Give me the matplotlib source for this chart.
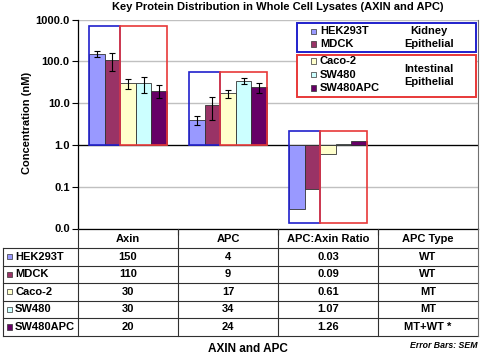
import matplotlib
matplotlib.use("Agg")
import matplotlib.pyplot as plt
from matplotlib.patches import Rectangle
from matplotlib.ticker import FixedLocator, FuncFormatter

plt.rcParams['font.family'] = ['Liberation Sans', 'DejaVu Sans']
plt.rcParams['font.weight'] = 'bold'

# data
categories = ["Axin", "APC", "APC:Axin Ratio", "APC Type"]
cell_lines = ["HEK293T", "MDCK", "Caco-2", "SW480", "SW480APC"]
colors = ["#9999FF", "#993366", "#FFFFCC", "#CCFFFF", "#660066"]
axin = [150, 110, 30, 30, 20]
apc = [4, 9, 17, 34, 24]
ratio = [0.03, 0.09, 0.61, 1.07, 1.26]
apc_type = ["WT", "WT", "MT", "MT", "MT+WT *"]
axin_err = [22, 50, 8, 13, 7]
apc_err = [1, 5, 3.5, 6, 7]
# grouping boxes (kidney / intestinal) per category
box_top = [700, 55, 2.1]
box_bottom = [1, 1, 0.0137]

W, H = 483, 355
FS = 8
fig = plt.figure(figsize=(W / 100, H / 100), dpi=100)


def fx(x):
    return x / W


def fy(y):
    return 1 - y / H


ax = fig.add_axes([fx(78), fy(228.5), 400 / W, 209 / H])
ax.set_yscale("log")
ax.set_ylim(0.01, 1000)
ax.set_xlim(0, 4)

bw = 0.156
values = [axin, apc, ratio]
errors = [axin_err, apc_err, None]
for g, vals in enumerate(values):
    for i, v in enumerate(vals):
        x = g + 0.5 + (i - 2) * bw
        ax.bar(x, v - 1, bottom=1, width=bw, color=colors[i],
               edgecolor="#333333", linewidth=0.6, zorder=3)
        if errors[g] is not None:
            ax.errorbar(x, v, yerr=errors[g][i], color="black", lw=0.8,
                        capsize=2.5, capthick=0.8, zorder=4)
    left = g + 0.5 - 2.5 * bw
    ax.add_patch(Rectangle((left, box_bottom[g]), 2 * bw,
                           box_top[g] - box_bottom[g], fill=False,
                           edgecolor="#2020CC", lw=1.2, zorder=5))
    ax.add_patch(Rectangle((left + 2 * bw, box_bottom[g]), 3 * bw,
                           box_top[g] - box_bottom[g], fill=False,
                           edgecolor="#E83838", lw=1.2, zorder=5))

ax.yaxis.set_major_locator(FixedLocator([0.01, 0.1, 1, 10, 100, 1000]))
ax.yaxis.set_minor_locator(FixedLocator([]))
ax.yaxis.set_major_formatter(FuncFormatter(lambda v, p: "%.1f" % v))
ax.grid(axis="y", color="#C0C0C0", lw=1.0, zorder=0)
ax.axhline(1, color="black", lw=0.9, zorder=2)
ax.set_xticks([1, 2, 3])
ax.set_xticklabels([])
ax.tick_params(axis="x", length=4, width=0.8, direction="out")
ax.tick_params(axis="y", length=4, width=0.8, labelsize=FS, pad=2)
for lab in ax.get_yticklabels():
    lab.set_fontweight("bold")
ax.spines["top"].set_visible(False)
ax.spines["right"].set_color("#707070")
ax.spines["left"].set_linewidth(0.9)
ax.spines["bottom"].set_linewidth(0.9)

fig.text(fx(278), fy(7.5), "Key Protein Distribution in Whole Cell Lysates (AXIN and APC)",
         ha="center", va="center", fontsize=FS, fontweight="bold")
fig.text(fx(27), fy(123), "Concentration (nM)", rotation=90,
         ha="center", va="center", fontsize=FS, fontweight="bold")
fig.text(fx(248), fy(349), "AXIN and APC", ha="center", va="center",
         fontsize=8.5, fontweight="bold")
fig.text(fx(477), fy(345), "Error Bars: SEM", ha="right", va="center",
         fontsize=6.3, fontweight="bold", style="italic")

# data table below the plot
lc = "#303030"


def hline(y, x0, x1):
    fig.add_artist(plt.Line2D([fx(x0), fx(x1)], [fy(y), fy(y)], color=lc, lw=0.8))


def vline(x, y0, y1, color=lc):
    fig.add_artist(plt.Line2D([fx(x), fx(x)], [fy(y0), fy(y1)], color=color, lw=0.8))


row_edges = [248, 265.5, 283, 300.5, 318, 336]
for y in row_edges:
    hline(y, 3, 478)
vline(3, 248, 336)
for x in [78, 178, 278, 378]:
    vline(x, 228.5, 336)
vline(478, 228.5, 336, color="#707070")

col_x = [128, 228, 328, 428]
for c, name in zip(col_x, categories):
    fig.text(fx(c), fy(238.5), name, ha="center", va="center",
             fontsize=FS, fontweight="bold")
ratio_txt = ["%.2f" % r for r in ratio]
for i, name in enumerate(cell_lines):
    yc = (row_edges[i] + row_edges[i + 1]) / 2
    fig.add_artist(Rectangle((fx(6.5), fy(yc + 2.6)), 5.2 / W, 5.2 / H,
                             facecolor=colors[i], edgecolor="#333333", lw=0.5))
    fig.text(fx(15), fy(yc), name, ha="left", va="center",
             fontsize=FS, fontweight="bold")
    row = [str(axin[i]), str(apc[i]), ratio_txt[i], apc_type[i]]
    for c, t in zip(col_x, row):
        fig.text(fx(c), fy(yc), t, ha="center", va="center",
                 fontsize=FS, fontweight="bold")

# legend with tissue groups
groups = [("Kidney\nEpithelial", [0, 1], 23, 52, "#2020CC", [31.5, 44]),
          ("Intestinal\nEpithelial", [2, 3, 4], 54.5, 97, "#E83838", [61, 74.5, 88])]
for label, idx, y0, y1, ec, ys in groups:
    fig.add_artist(Rectangle((fx(296.5), fy(y1)), (476 - 296.5) / W, (y1 - y0) / H,
                             facecolor="white", edgecolor=ec, lw=1.4, zorder=6))
    vline(381.5, y0 + 1, y1 - 1, color="#707070")
    for i, y in zip(idx, ys):
        fig.add_artist(Rectangle((fx(311), fy(y + 2.6)), 5.2 / W, 5.2 / H,
                                 facecolor=colors[i], edgecolor="#333333", lw=0.5, zorder=7))
        fig.text(fx(320), fy(y), cell_lines[i], ha="left", va="center",
                 fontsize=FS, fontweight="bold", zorder=7)
    fig.text(fx(429), fy((y0 + y1) / 2), label, ha="center", va="center",
             fontsize=FS, fontweight="bold", linespacing=1.35, zorder=7)

fig.savefig("out.png", dpi=100)
